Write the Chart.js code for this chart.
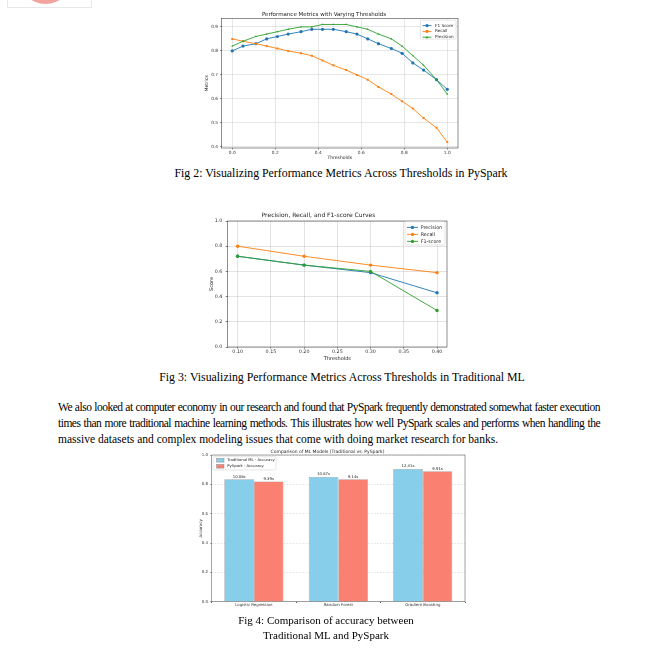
<!DOCTYPE html>
<html>
<head>
<meta charset="utf-8">
<script src="https://cdn.jsdelivr.net/npm/chart.js@4.4.1/dist/chart.umd.min.js"></script>
<style>
body { margin: 0; background: #fff; width: 657px; height: 650px; position: relative; overflow: hidden; font-family: "Liberation Serif", "Times New Roman", serif; color: #000; }
canvas { position: absolute; }
.cap { position: absolute; text-align: center; font-size: 11.85px; line-height: 15px; white-space: nowrap; }
.cap.small { font-size: 11px; }
.line { position: absolute; left: 58px; width: 542px; font-size: 11.5px; line-height: 16px; height: 16px; overflow: visible; text-align: justify; text-align-last: justify; letter-spacing: -0.5px; }
.line.last { text-align: left; text-align-last: left; letter-spacing: 0; white-space: nowrap; }
.thumb { position: absolute; left: 7px; top: -10px; width: 83px; height: 16px; border: 1px solid #e8e8e8; overflow: hidden; }
.thumb div { position: absolute; left: 11px; top: -40px; width: 53px; height: 53px; border-radius: 50%; background: #f3a39d; }
</style>
</head>
<body>
<div class="thumb"><div></div></div>

<canvas id="c1" width="280" height="160" style="left:190px;top:5px"></canvas>
<div class="cap" style="left:141px;width:400px;top:166px">Fig 2: Visualizing Performance Metrics Across Thresholds in PySpark</div>

<canvas id="c2" width="280" height="160" style="left:190px;top:205px"></canvas>
<div class="cap" style="left:142px;width:400px;top:370px">Fig 3: Visualizing Performance Metrics Across Thresholds in Traditional ML</div>

<div class="line" style="top:399px">We also looked at computer economy in our research and found that PySpark frequently demonstrated somewhat faster execution</div>
<div class="line" style="top:415px">times than more traditional machine learning methods. This illustrates how well PySpark scales and performs when handling the</div>
<div class="line last" style="top:431px">massive datasets and complex modeling issues that come with doing market research for banks.</div>

<canvas id="c3" width="285" height="170" style="left:190px;top:445px"></canvas>
<div class="cap small" style="left:126px;width:400px;top:613px">Fig 4: Comparison of accuracy between</div>
<div class="cap small" style="left:126px;width:400px;top:628px">Traditional ML and PySpark</div>

<script>
// Fig 2 - metrics vs threshold (PySpark)
const thr1 = [0.00, 0.05, 0.11, 0.16, 0.21, 0.26, 0.32, 0.37, 0.42, 0.47, 0.53, 0.58, 0.63, 0.68, 0.74, 0.79, 0.84, 0.89, 0.95, 1.00];
const f1Score1 = [0.80, 0.82, 0.83, 0.85, 0.86, 0.87, 0.88, 0.89, 0.89, 0.89, 0.88, 0.87, 0.85, 0.83, 0.81, 0.79, 0.75, 0.72, 0.68, 0.64];
const recall1 = [0.85, 0.84, 0.83, 0.82, 0.81, 0.80, 0.79, 0.78, 0.76, 0.74, 0.72, 0.70, 0.68, 0.65, 0.62, 0.59, 0.56, 0.52, 0.48, 0.42];
const precision1 = [0.82, 0.84, 0.86, 0.87, 0.88, 0.89, 0.90, 0.90, 0.91, 0.91, 0.91, 0.90, 0.89, 0.87, 0.85, 0.82, 0.78, 0.74, 0.68, 0.62];
const xTicks1 = ['0.0', '0.2', '0.4', '0.6', '0.8', '1.0'];
const yTicks1 = ['0.4', '0.5', '0.6', '0.7', '0.8', '0.9'];

// Fig 3 - traditional ML curves
const thr2 = [0.10, 0.20, 0.30, 0.40];
const precision2 = [0.72, 0.65, 0.59, 0.43];
const recall2 = [0.80, 0.72, 0.65, 0.59];
const f1Score2 = [0.72, 0.65, 0.60, 0.29];
const xTicks2 = ['0.10', '0.15', '0.20', '0.25', '0.30', '0.35', '0.40'];
const yTicks2 = ['0.0', '0.2', '0.4', '0.6', '0.8', '1.0'];

// Fig 4 - accuracy comparison
const models = ['Logistic Regression', 'Random Forest', 'Gradient Boosting'];
const accTrad = [0.835, 0.85, 0.905];
const accSpark = [0.82, 0.835, 0.89];
const timeTrad = [10.08, 10.67, 12.31];
const timeSpark = [9.39, 9.14, 9.91];
const yTicks3 = ['0.0', '0.2', '0.4', '0.6', '0.8', '1.0'];

const BLUE = '#1f77b4', ORANGE = '#ff7f0e', GREEN = '#2ca02c';
Chart.defaults.font.family = '"DejaVu Sans", sans-serif';
Chart.defaults.color = '#333';

function pts(xs, ys) {
  return xs.map(function(x, i) { return { x: x, y: ys[i] }; });
}
function tickSetter(labels) {
  return function(s) { s.ticks = labels.map(function(l) { return { value: parseFloat(l) }; }); };
}
function tickLabel(labels) {
  return function(v, i) { return labels[i]; };
}

function drawMarker(c, style, x, y, r) {
  c.beginPath();
  if (style === 'rect') {
    c.rect(x - r, y - r, 2 * r, 2 * r);
  } else if (style === 'triangle') {
    c.moveTo(x, y - r * 1.2); c.lineTo(x + r * 1.1, y + r * 0.8); c.lineTo(x - r * 1.1, y + r * 0.8); c.closePath();
  } else {
    c.arc(x, y, r, 0, Math.PI * 2);
  }
  c.fill();
}

const frameBox = {
  id: 'frameBox',
  afterDatasetsDraw(chart, args, o) {
    const a = chart.chartArea, c = chart.ctx;
    c.save();
    c.strokeStyle = o.color || '#444';
    c.lineWidth = o.width || 0.6;
    c.strokeRect(a.left, a.top, a.right - a.left, a.bottom - a.top);
    c.restore();
  }
};

const boxLegend = {
  id: 'boxLegend',
  afterDraw(chart, args, o) {
    const a = chart.chartArea, c = chart.ctx;
    const x = o.corner === 'tl' ? a.left + o.dx : a.right - o.dx - o.w;
    const y = a.top + o.dy;
    c.save();
    c.fillStyle = 'rgba(255,255,255,0.9)';
    c.strokeStyle = '#d4d4d4';
    c.lineWidth = 0.6;
    c.beginPath();
    c.roundRect(x, y, o.w, o.h, 1.2);
    c.fill();
    c.stroke();
    c.font = o.size + 'px "DejaVu Sans"';
    c.textBaseline = 'middle';
    c.textAlign = 'left';
    chart.data.datasets.forEach(function(ds, i) {
      const cy = y + o.first + i * o.row;
      if (o.patch) {
        c.fillStyle = ds.backgroundColor;
        c.fillRect(x + o.lx, cy - o.ph / 2, o.len, o.ph);
        c.strokeStyle = ds.borderColor;
        c.lineWidth = 0.5;
        c.strokeRect(x + o.lx, cy - o.ph / 2, o.len, o.ph);
      } else {
        c.strokeStyle = ds.borderColor;
        c.lineWidth = ds.borderWidth;
        c.beginPath();
        c.moveTo(x + o.lx, cy);
        c.lineTo(x + o.lx + o.len, cy);
        c.stroke();
        c.fillStyle = ds.borderColor;
        drawMarker(c, ds.pointStyle, x + o.lx + o.len / 2, cy, ds.pointRadius);
      }
      c.fillStyle = '#222';
      c.fillText(ds.label, x + o.tx, cy);
    });
    c.restore();
  }
};

const barTimes = {
  id: 'barTimes',
  afterDatasetsDraw(chart) {
    const c = chart.ctx;
    const times = [timeTrad, timeSpark];
    c.save();
    c.font = '3.8px "DejaVu Sans"';
    c.fillStyle = '#222';
    c.textAlign = 'center';
    c.textBaseline = 'bottom';
    times.forEach(function(arr, di) {
      chart.getDatasetMeta(di).data.forEach(function(bar, i) {
        c.fillText(arr[i].toFixed(2) + 's', bar.x, bar.y - 0.6);
      });
    });
    c.restore();
  }
};

function lineSet(label, xs, ys, color, style, r, order) {
  return { label: label, data: pts(xs, ys), borderColor: color, backgroundColor: color, borderWidth: 0.9,
    pointStyle: style, pointRadius: r, pointBorderWidth: 0, pointBackgroundColor: color, tension: 0, order: order };
}

// ---- Fig 2 ----
new Chart(document.getElementById('c1'), {
  type: 'line',
  data: { datasets: [
    lineSet('F1 Score', thr1, f1Score1, BLUE, 'circle', 1.6, 3),
    lineSet('Recall', thr1, recall1, ORANGE, 'rect', 1.4, 2),
    lineSet('Precision', thr1, precision1, GREEN, 'triangle', 1.2, 1)
  ] },
  options: {
    responsive: false, animation: false, events: [],
    layout: { padding: { left: 0, right: 12, top: 0, bottom: 0 } },
    plugins: {
      legend: { display: false }, tooltip: { enabled: false },
      title: { display: true, text: 'Performance Metrics with Varying Thresholds', color: '#222', font: { size: 5.5, weight: 'normal' }, padding: { top: 6, bottom: 1 } },
      boxLegend: { corner: 'tr', dx: 2, dy: 1.5, w: 35.5, h: 19, first: 5.5, row: 5.8, lx: 2, len: 9, tx: 14.5, size: 4.2 }
    },
    scales: {
      x: { type: 'linear', min: -0.05, max: 1.05, afterBuildTicks: tickSetter(xTicks1), afterFit: function(s) { s.height = 17; },
        ticks: { font: { size: 4.3 }, padding: 0.9, autoSkip: false, maxRotation: 0, callback: tickLabel(xTicks1) },
        grid: { color: 'rgba(176,176,176,0.5)', lineWidth: 0.6, tickLength: 1.5, tickColor: '#444' }, border: { display: false },
        title: { display: true, text: 'Thresholds', color: '#222', font: { size: 4.5 }, padding: { top: 0, bottom: 4.3 } } },
      y: { type: 'linear', min: 0.3955, max: 0.9345, afterBuildTicks: tickSetter(yTicks1), afterFit: function(s) { s.width = 31.5; },
        ticks: { font: { size: 4.3 }, padding: 2, autoSkip: false, callback: tickLabel(yTicks1) },
        grid: { color: 'rgba(176,176,176,0.5)', lineWidth: 0.6, tickLength: 1.5, tickColor: '#444' }, border: { display: false },
        title: { display: true, text: 'Metrics', color: '#222', font: { size: 4.5 }, padding: { top: 14, bottom: 0 } } }
    }
  },
  plugins: [frameBox, boxLegend]
});

// ---- Fig 3 ----
new Chart(document.getElementById('c2'), {
  type: 'line',
  data: { datasets: [
    lineSet('Precision', thr2, precision2, BLUE, 'circle', 1.7, 3),
    lineSet('Recall', thr2, recall2, ORANGE, 'circle', 1.7, 2),
    lineSet('F1-score', thr2, f1Score2, GREEN, 'circle', 1.7, 1)
  ] },
  options: {
    responsive: false, animation: false, events: [],
    layout: { padding: { left: 0, right: 23, top: 0, bottom: 0 } },
    plugins: {
      legend: { display: false }, tooltip: { enabled: false },
      title: { display: true, text: 'Precision, Recall, and F1-score Curves', color: '#222', font: { size: 6, weight: 'normal' }, padding: { top: 6.4, bottom: 2.4 } },
      boxLegend: { corner: 'tr', dx: 2, dy: 0.7, w: 40, h: 23.3, first: 5.7, row: 7, lx: 2, len: 11, tx: 15.7, size: 4.8 }
    },
    scales: {
      x: { type: 'linear', min: 0.085, max: 0.415, afterBuildTicks: tickSetter(xTicks2), afterFit: function(s) { s.height = 18; },
        ticks: { font: { size: 4.8 }, padding: 0.3, autoSkip: false, maxRotation: 0, callback: tickLabel(xTicks2) },
        grid: { color: 'rgba(176,176,176,0.5)', lineWidth: 0.7, tickLength: 1.5, tickColor: '#444' }, border: { display: false },
        title: { display: true, text: 'Thresholds', color: '#222', font: { size: 5 }, padding: { top: 0, bottom: 3.3 } } },
      y: { type: 'linear', min: 0, max: 1, afterBuildTicks: tickSetter(yTicks2), afterFit: function(s) { s.width = 37.7; },
        ticks: { font: { size: 4.8 }, padding: 3.4, autoSkip: false, callback: tickLabel(yTicks2) },
        grid: { color: 'rgba(176,176,176,0.5)', lineWidth: 0.7, tickLength: 2, tickColor: '#444' }, border: { display: false },
        title: { display: true, text: 'Score', color: '#222', font: { size: 5 }, padding: { top: 18.7, bottom: 0 } } }
    }
  },
  plugins: [frameBox, boxLegend]
});

// ---- Fig 4 ----
new Chart(document.getElementById('c3'), {
  type: 'bar',
  data: { labels: models, datasets: [
    { label: 'Traditional ML - Accuracy', data: accTrad, backgroundColor: '#87ceeb', borderColor: '#8a8a8a', borderWidth: 0.6, barPercentage: 1, categoryPercentage: 0.7 },
    { label: 'PySpark - Accuracy', data: accSpark, backgroundColor: '#fa8072', borderColor: '#8a8a8a', borderWidth: 0.6, barPercentage: 1, categoryPercentage: 0.7 }
  ] },
  options: {
    responsive: false, animation: false, events: [],
    layout: { padding: { left: 0, right: 10, top: 0, bottom: 0 } },
    plugins: {
      legend: { display: false }, tooltip: { enabled: false },
      title: { display: true, text: 'Comparison of ML Models (Traditional vs. PySpark)', color: '#222', font: { size: 4.5, weight: 'normal' }, padding: { top: 4, bottom: 0.6 } },
      frameBox: { color: '#666', width: 0.6 },
      boxLegend: { corner: 'tl', dx: 1.3, dy: 1.7, w: 63, h: 13.3, first: 3.6, row: 6, lx: 3.7, len: 7.3, ph: 3.6, tx: 14.3, size: 3.8, patch: true }
    },
    scales: {
      x: { afterFit: function(s) { s.height = 13.3; },
        ticks: { font: { size: 3.9 }, padding: 0.2, autoSkip: false, maxRotation: 0 },
        grid: { drawOnChartArea: false, tickLength: 1.2, tickColor: '#444' }, border: { display: false } },
      y: { type: 'linear', min: 0, max: 1, afterBuildTicks: tickSetter(yTicks3), afterFit: function(s) { s.width = 21.7; },
        ticks: { font: { size: 3.9 }, padding: 2.2, autoSkip: false, callback: tickLabel(yTicks3) },
        grid: { color: 'rgba(0,0,0,0.22)', lineWidth: 0.5, tickLength: 1.5, tickColor: '#444' }, border: { display: false, dash: [1.5, 1.5] },
        title: { display: true, text: 'Accuracy', color: '#222', font: { size: 4 }, padding: { top: 8.6, bottom: 0 } } }
    }
  },
  plugins: [frameBox, boxLegend, barTimes]
});
</script>
</body>
</html>
